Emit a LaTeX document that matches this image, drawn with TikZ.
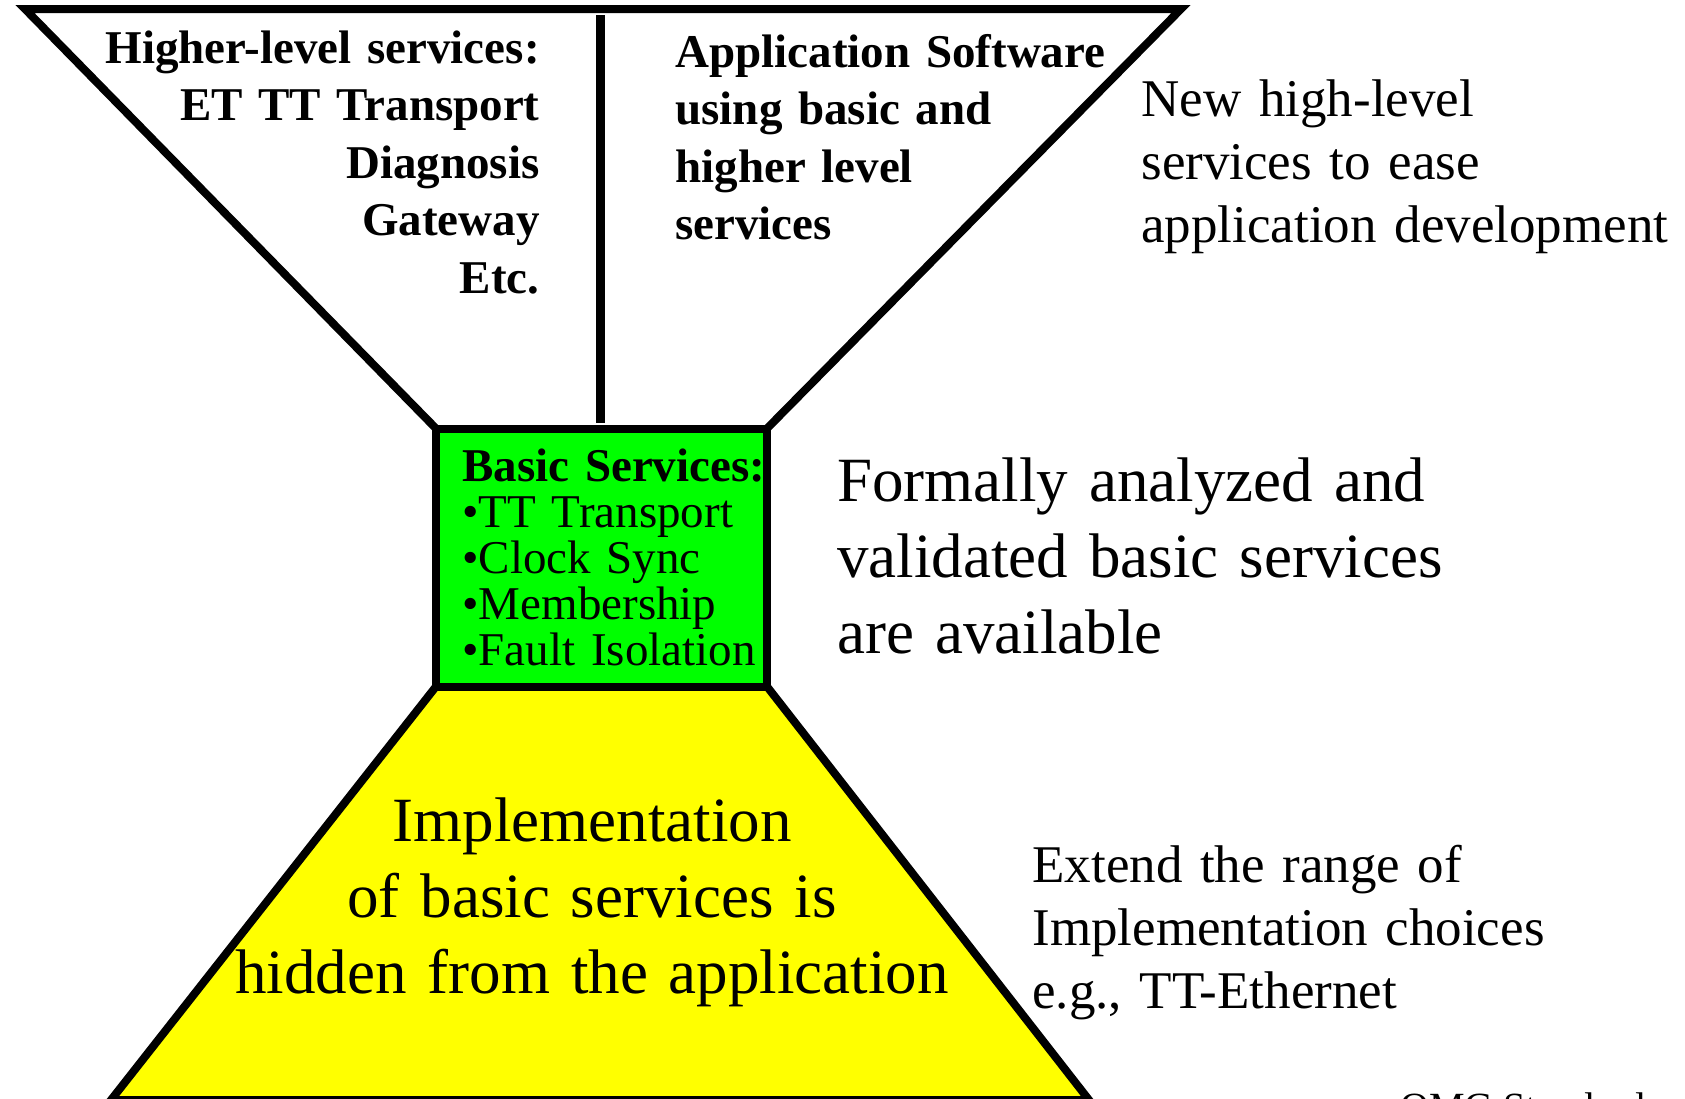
\documentclass[tikz,border=0pt]{standalone}
\usepackage{fontspec}
\setmainfont{Liberation Serif}
\definecolor{basicgreen}{RGB}{0,255,0}
\definecolor{implyellow}{RGB}{255,255,0}

\begin{document}
\begin{tikzpicture}[x=0.5pt, y=-0.5pt,
    outline/.style={line width=4pt, line join=miter},
    bigtxt/.style={inner sep=0pt, font=\fontsize{31.5}{38}\selectfont},
    midtxt/.style={inner sep=0pt, font=\fontsize{26.5}{31.5}\selectfont},
    headtxt/.style={inner sep=0pt, font=\fontsize{23.5}{28.75}\selectfont\bfseries},
    listtxt/.style={inner sep=0pt, font=\fontsize{23.5}{23}\selectfont}]
    \useasboundingbox (0,0) rectangle (1685,1098);
    \clip (0,0) rectangle (1685,1098);

    % hourglass outline
    \node[minimum width=165.5pt, minimum height=129pt, inner sep=0pt, outer sep=0pt] (basic) at (601.5,557.5) {};
    \coordinate (topleft) at (25,9);
    \coordinate (topright) at (1181,9);
    \coordinate (baseleft) at (111,1100);
    \coordinate (baseright) at (1089,1100);
    \coordinate (divtop) at (600,15);
    \coordinate (divbot) at (600,423);

    \draw[outline, fill=implyellow] (basic.south west) -- (basic.south east) -- (baseright) -- (baseleft) -- cycle;
    \draw[outline] (basic.north west) -- (topleft) -- (topright) -- (basic.north east);
    \draw[line width=4.5pt] (divtop) -- (divbot);
    \draw[outline, fill=basicgreen] (basic.north west) rectangle (basic.south east);

    % texts
    \node[headtxt, text width=240pt, align=right, anchor=base east] (higher) at (540,63)
        {Higher-level services:\\ET TT Transport\\Diagnosis\\Gateway\\Etc.};
    \node[headtxt, text width=240pt, align=left, anchor=base west] (appsw) at (675,67)
        {Application Software\\using basic and\\higher level\\services};
    \node[midtxt, text width=300pt, align=left, anchor=base west] (newhl) at (1141,116)
        {New high-level\\services to ease\\application development};
    \node[listtxt, text width=160pt, align=left, anchor=base west] (basiclist) at (462,481)
        {\textbf{Basic Services:}\\•TT Transport\\•Clock Sync\\•Membership\\•Fault Isolation};
    \node[bigtxt, text width=350pt, align=left, anchor=base west] (formal) at (837,501)
        {Formally analyzed and\\validated basic services\\are available};
    \node[bigtxt, text width=400pt, align=center, anchor=base] (hidden) at (592,841)
        {Implementation\\of basic services is\\hidden from the application};
    \node[midtxt, text width=300pt, align=left, anchor=base west] (extend) at (1032,882)
        {Extend the range of\\Implementation choices\\e.g., TT-Ethernet};
    \node[inner sep=0pt, font=\fontsize{20}{24}\selectfont, anchor=base west] (omg) at (1400,1120) {OMG Standard};
\end{tikzpicture}
\end{document}
